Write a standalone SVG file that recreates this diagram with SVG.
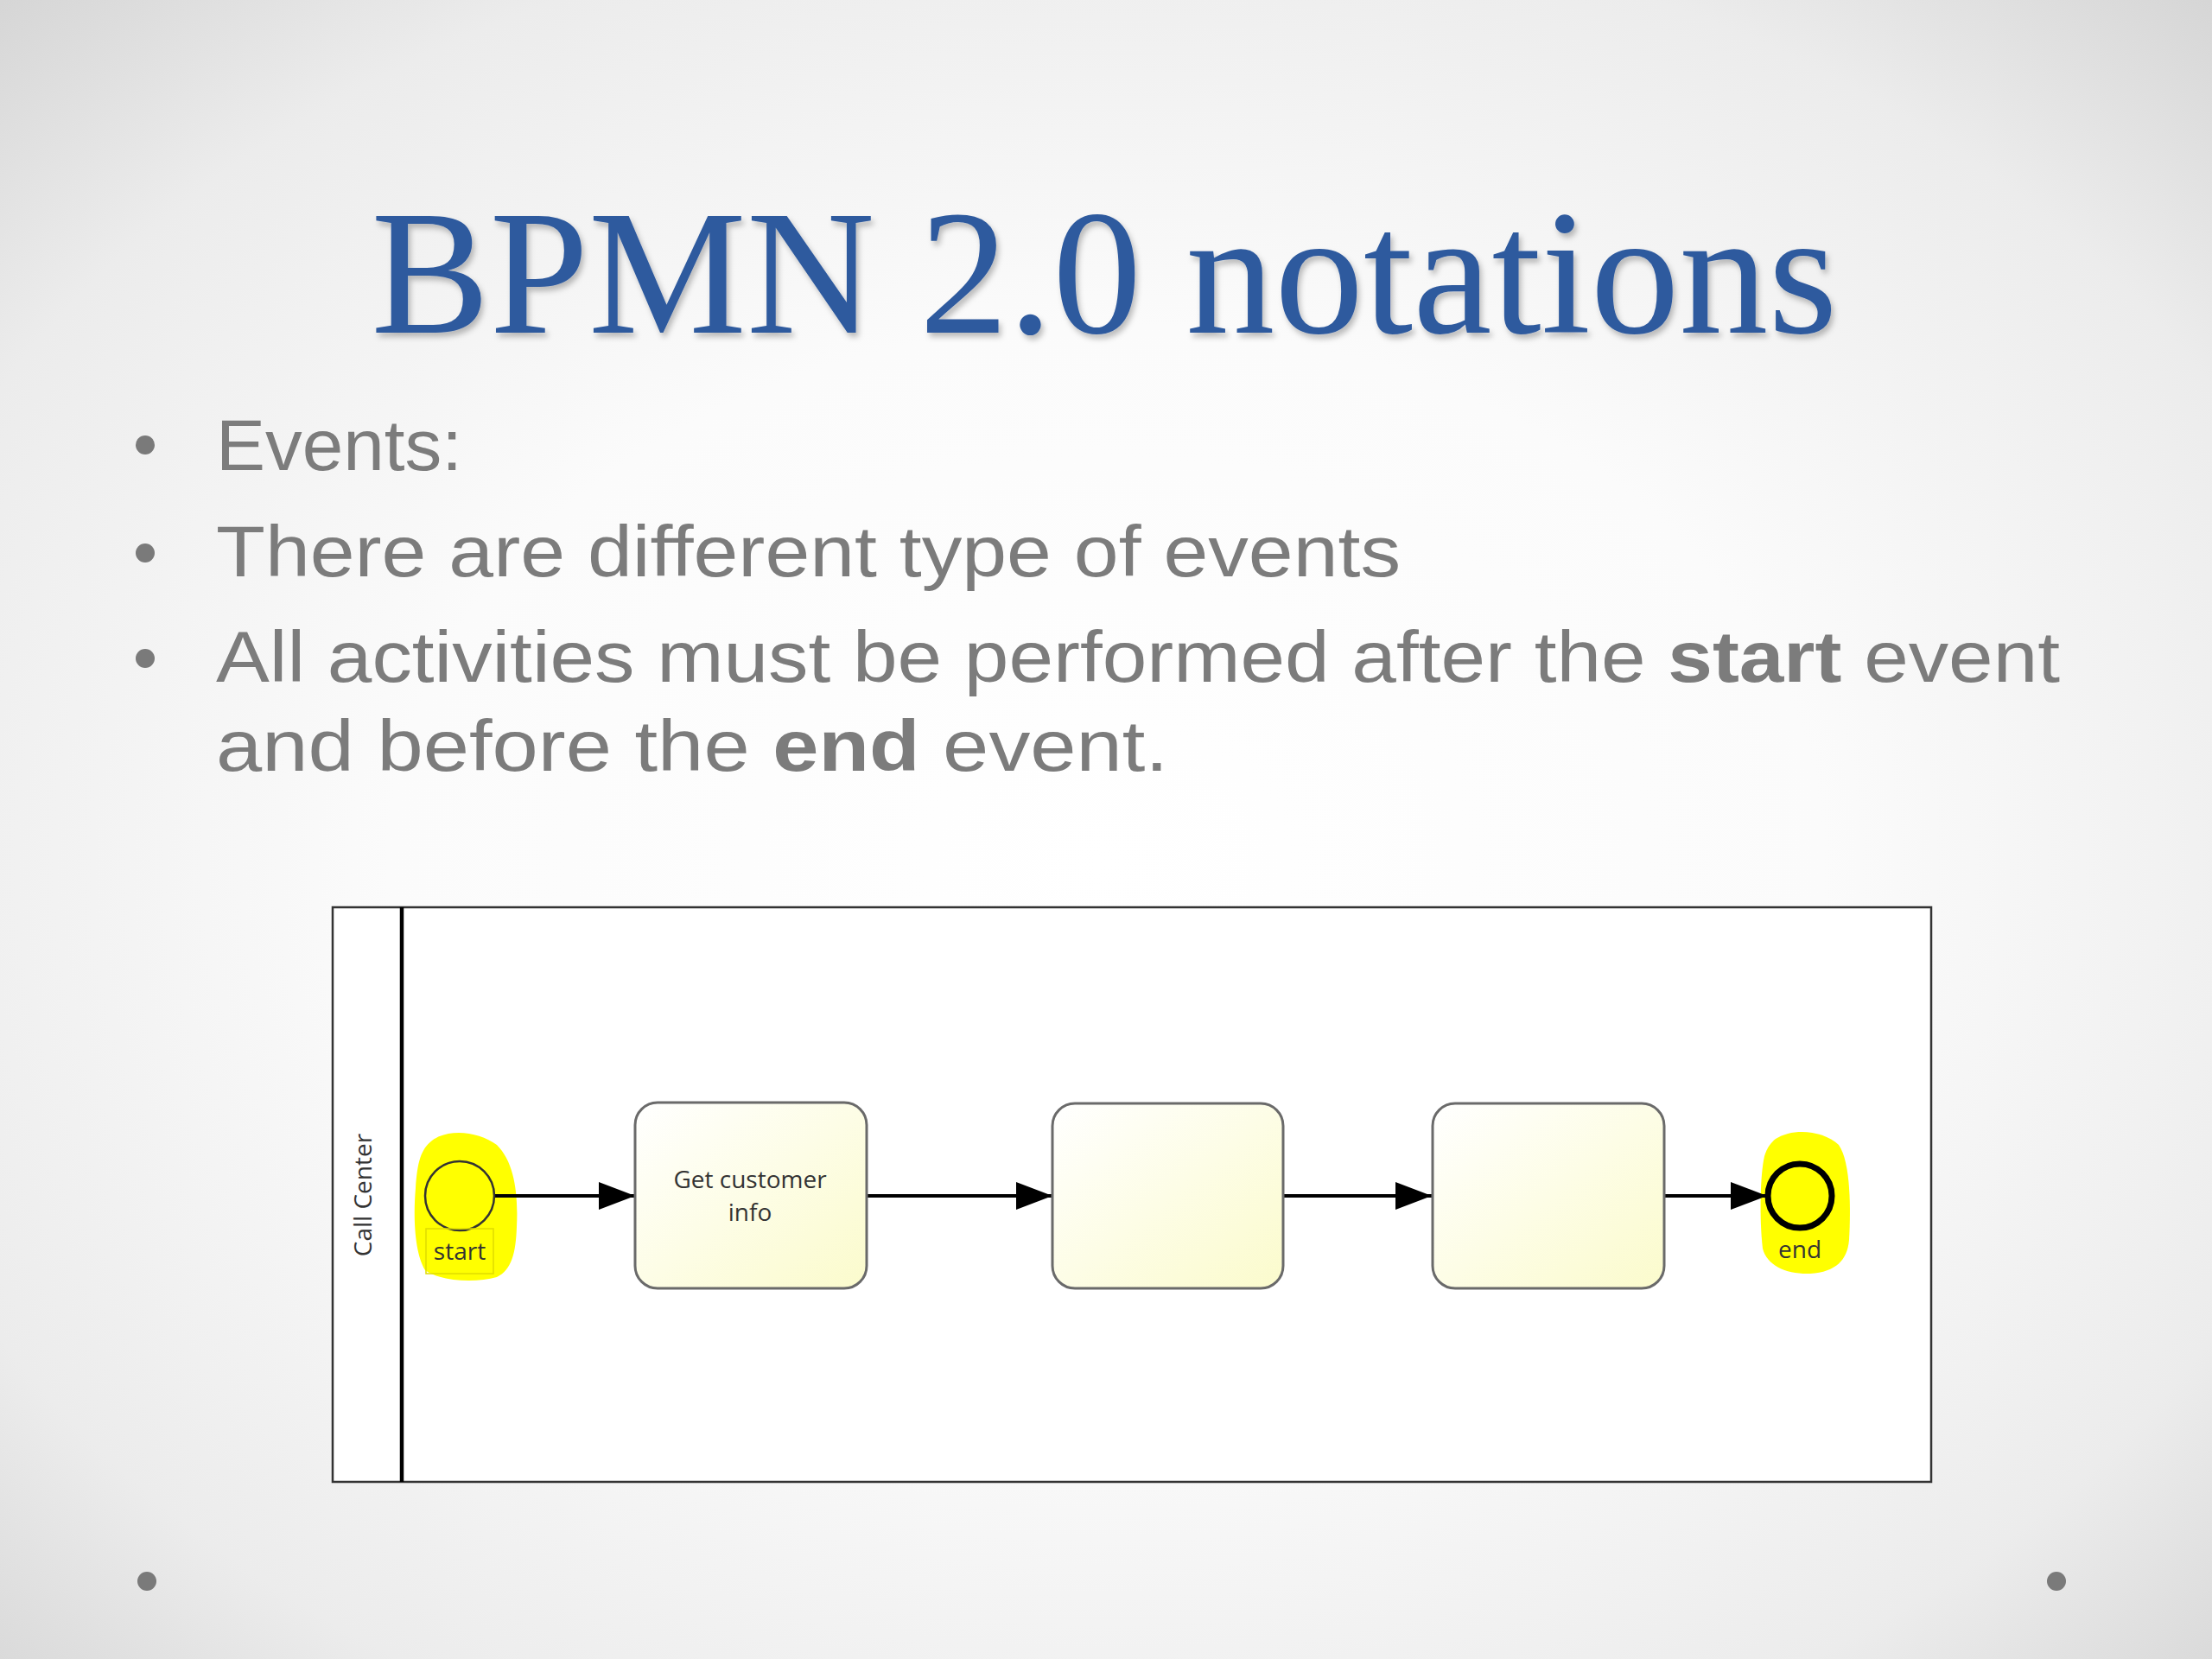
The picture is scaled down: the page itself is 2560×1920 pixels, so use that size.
<svg xmlns="http://www.w3.org/2000/svg" width="2560" height="1920" viewBox="0 0 2560 1920">
  <defs>
    <radialGradient id="bg" cx="50%" cy="52%" r="72%">
      <stop offset="0" stop-color="#ffffff"/>
      <stop offset="0.45" stop-color="#fbfbfb"/>
      <stop offset="0.8" stop-color="#ececec"/>
      <stop offset="1" stop-color="#d6d6d6"/>
    </radialGradient>
    <linearGradient id="task" x1="0" y1="0" x2="1" y2="1">
      <stop offset="0" stop-color="#ffffff"/>
      <stop offset="0.5" stop-color="#fdfde6"/>
      <stop offset="1" stop-color="#fbfbcc"/>
    </linearGradient>
    <filter id="shadow" x="-5%" y="-5%" width="110%" height="120%">
      <feDropShadow dx="3" dy="5" stdDeviation="3" flood-color="#000" flood-opacity="0.25"/>
    </filter>
    <marker id="arrow" markerWidth="42" markerHeight="32" refX="42" refY="16" orient="auto" markerUnits="userSpaceOnUse">
      <path d="M0,0 L42,16 L0,32 Z" fill="#000"/>
    </marker>
    <style>
      .title { font-family: "Liberation Serif", "DejaVu Serif", serif; font-size: 206px; fill: #2f5a9e; }
      .body { font-family: "Liberation Sans", Arial, sans-serif; font-size: 84px; fill: #7c7c7c; }
      .bullet { fill: #7a7a7a; }
      .task { fill: url(#task); stroke: #6a6a6a; stroke-width: 3; }
      .lbl { font-family: "Open Sans", "DejaVu Sans", sans-serif; font-size: 28px; fill: #333; text-anchor: middle; }
      .flow { stroke: #000; stroke-width: 4; fill: none; marker-end: url(#arrow); }
      .hl { fill: #ffff00; }
    </style>
  </defs>

  <rect x="0" y="0" width="2560" height="1920" fill="url(#bg)"/>

  <!-- Title -->
  <text class="title" x="1278" y="385" text-anchor="middle" textLength="1697" lengthAdjust="spacingAndGlyphs" filter="url(#shadow)">BPMN 2.0 notations</text>

  <!-- Bullets -->
  <g id="bullets">
    <circle class="bullet" cx="168" cy="515" r="11"/>
    <circle class="bullet" cx="168" cy="640" r="11"/>
    <circle class="bullet" cx="168" cy="762" r="11"/>
    <text class="body" x="250" y="544" textLength="285" lengthAdjust="spacingAndGlyphs">Events:</text>
    <text class="body" x="250" y="667" textLength="1371" lengthAdjust="spacingAndGlyphs">There are different type of events</text>
    <text class="body" x="250" y="789" textLength="2134" lengthAdjust="spacingAndGlyphs">All activities must be performed after the <tspan font-weight="bold">start</tspan> event</text>
    <text class="body" x="250" y="892" textLength="1102" lengthAdjust="spacingAndGlyphs">and before the <tspan font-weight="bold">end</tspan> event.</text>
  </g>

  <!-- Bottom dots -->
  <circle class="bullet" cx="170" cy="1830" r="11"/>
  <circle class="bullet" cx="2380" cy="1830" r="11"/>

  <!-- Pool / lane -->
  <g id="pool">
    <rect x="385" y="1050" width="1850" height="665" fill="#ffffff" stroke="#333" stroke-width="2.5"/>
    <line x1="465" y1="1050" x2="465" y2="1715" stroke="#000" stroke-width="4.5"/>
    <text class="lbl" font-size="34" transform="translate(430,1383) rotate(-90)" fill="#333">Call Center</text>
  </g>

  <!-- Highlights -->
  <path class="hl" d="M500,1320 C520,1305 555,1310 575,1325 C595,1345 600,1380 598,1420 C597,1450 592,1470 575,1478 C550,1485 510,1483 492,1470 C480,1450 478,1410 481,1375 C483,1345 487,1330 500,1320 Z"/>
  <path class="hl" d="M2055,1318 C2075,1305 2110,1308 2128,1325 C2142,1345 2142,1400 2140,1435 C2138,1458 2125,1472 2095,1474 C2068,1475 2045,1465 2040,1445 C2036,1410 2037,1360 2042,1338 C2045,1328 2050,1322 2055,1318 Z"/>

  <!-- Connectors -->
  <g id="connectors">
    <line class="flow" x1="572" y1="1384" x2="735" y2="1384"/>
    <line class="flow" x1="1003" y1="1384" x2="1218" y2="1384"/>
    <line class="flow" x1="1486" y1="1384" x2="1657" y2="1384"/>
    <line class="flow" x1="1926" y1="1384" x2="2045" y2="1384"/>
  </g>

  <!-- Nodes -->
  <g id="start">
    <circle cx="532" cy="1384" r="40" fill="#ffff00" stroke="#333" stroke-width="2.5"/>
    <rect x="493" y="1422" width="78" height="52" fill="none" stroke="#e0dc00" stroke-width="1.5"/>
    <text class="lbl" x="532" y="1458">start</text>
  </g>

  <g id="task1">
    <rect class="task" x="735" y="1276" width="268" height="215" rx="26" ry="26"/>
    <text class="lbl" x="868" y="1375">Get customer</text>
    <text class="lbl" x="868" y="1413">info</text>
  </g>

  <g id="task2">
    <rect class="task" x="1218" y="1277" width="267" height="214" rx="26" ry="26"/>
  </g>

  <g id="task3">
    <rect class="task" x="1658" y="1277" width="268" height="214" rx="26" ry="26"/>
  </g>

  <g id="end">
    <circle cx="2083" cy="1384" r="37" fill="#ffff00" stroke="#000" stroke-width="7"/>
    <text class="lbl" x="2083" y="1456">end</text>
  </g>
</svg>
